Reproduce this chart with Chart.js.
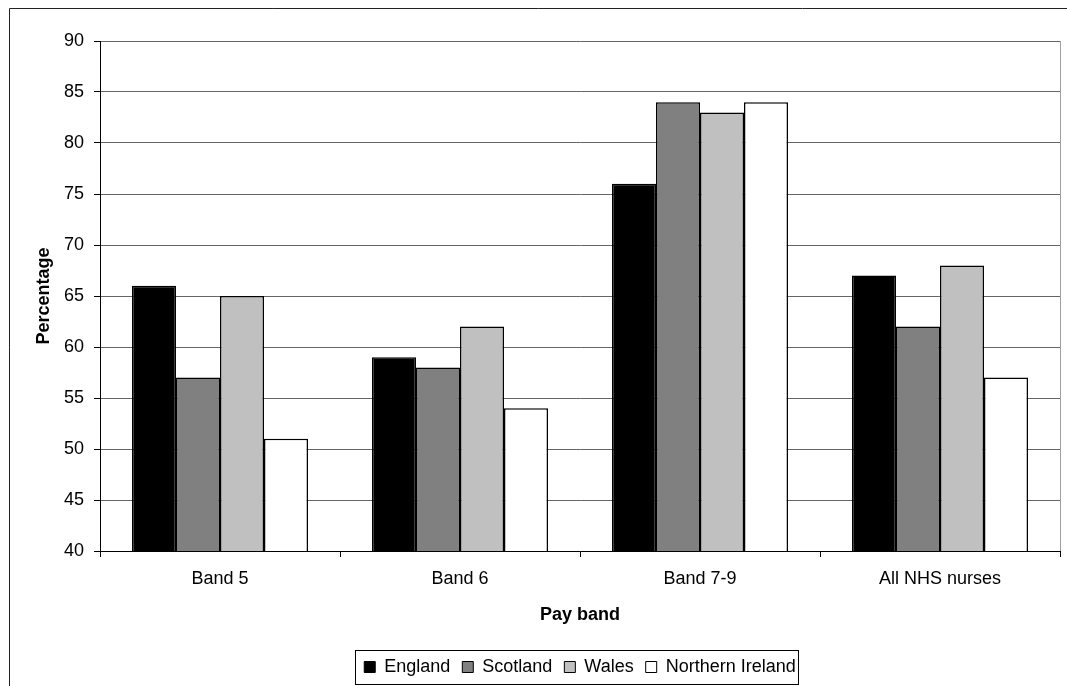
<!DOCTYPE html>
<html>
<head>
<meta charset="utf-8">
<script src="https://cdn.jsdelivr.net/npm/chart.js@4/dist/chart.umd.min.js"></script>
<style>
  html, body { margin: 0; padding: 0; background: #fff; }
  #c { display: block; }
</style>
</head>
<body>
<canvas id="c" width="1067" height="686"></canvas>
<script>
const categories = ['Band 5', 'Band 6', 'Band 7-9', 'All NHS nurses'];
const seriesNames = ['England', 'Scotland', 'Wales', 'Northern Ireland'];
const england = [66, 59, 76, 67];
const scotland = [57, 58, 84, 62];
const wales = [65, 62, 83, 68];
const northernIreland = [51, 54, 84, 57];
const yTicks = [40, 45, 50, 55, 60, 65, 70, 75, 80, 85, 90];

const fills = ['#000000', '#808080', '#c0c0c0', '#ffffff'];
const seriesValues = [england, scotland, wales, northernIreland];

Chart.defaults.font.family = "'Liberation Sans', Arial, sans-serif";
Chart.defaults.font.size = 18;
Chart.defaults.color = '#000';

const framePlugin = {
  id: 'frame',
  beforeDraw(chart) {
    const ctx = chart.ctx;
    ctx.save();
    ctx.fillStyle = '#fff';
    ctx.fillRect(0, 0, chart.width, chart.height);
    ctx.restore();
  },
  beforeDatasetsDraw(chart) {
    const {ctx, chartArea: a} = chart;
    ctx.save();
    ctx.strokeStyle = '#a0a0a0';
    ctx.lineWidth = 1;
    ctx.beginPath();
    ctx.moveTo(Math.round(a.right) + 0.5, a.top);
    ctx.lineTo(Math.round(a.right) + 0.5, a.bottom);
    ctx.stroke();
    ctx.restore();
  },
  afterDraw(chart) {
    const ctx = chart.ctx;
    ctx.save();
    // outer frame
    ctx.strokeStyle = '#222';
    ctx.lineWidth = 1;
    ctx.beginPath();
    ctx.moveTo(chart.width, 8.5);
    ctx.lineTo(9.5, 8.5);
    ctx.lineTo(9.5, chart.height);
    ctx.stroke();
    // legend border
    const lg = chart.legend;
    if (lg && lg.legendHitBoxes && lg.legendHitBoxes.length) {
      const hb = lg.legendHitBoxes;
      const first = hb[0], last = hb[hb.length - 1];
      const left = Math.round(first.left - 9) + 0.5;
      const right = Math.round(last.left + last.width + 2) + 0.5;
      const cy = first.top + first.height / 2;
      const top = Math.round(cy - 17) + 0.5;
      const bottom = Math.round(cy + 17) + 0.5;
      ctx.strokeStyle = '#000';
      ctx.strokeRect(left, top, right - left, bottom - top);
    }
    ctx.restore();
  }
};

new Chart(document.getElementById('c'), {
  type: 'bar',
  data: {
    labels: categories,
    datasets: seriesNames.map((name, i) => ({
      label: name,
      data: seriesValues[i],
      backgroundColor: fills[i],
      borderColor: '#000',
      borderWidth: 1.5,
      borderSkipped: false,
      categoryPercentage: 176 / 240,
      barPercentage: 1
    }))
  },
  options: {
    responsive: false,
    animation: false,
    devicePixelRatio: 1,
    layout: { padding: { left: 33, right: 7, top: 41, bottom: 0 } },
    plugins: {
      tooltip: { enabled: false },
      legend: {
        position: 'bottom',
        fullSize: false,
        labels: {
          boxWidth: 11,
          boxHeight: 11,
          padding: 12,
          color: '#000',
          font: { size: 18 },
          generateLabels(chart) {
            return chart.data.datasets.map((ds, i) => ({
              text: ds.label,
              fillStyle: ds.backgroundColor,
              strokeStyle: '#000',
              lineWidth: 1,
              hidden: false,
              datasetIndex: i
            }));
          }
        }
      }
    },
    scales: {
      x: {
        afterFit(s) { s.height = 95; },
        grid: {
          display: true,
          drawOnChartArea: false,
          drawTicks: true,
          tickLength: 6,
          color: '#000',
          tickColor: '#000',
          offset: true
        },
        border: { display: true, color: '#000', width: 1 },
        ticks: { padding: 11, color: '#000', font: { size: 18 }, maxRotation: 0 },
        title: {
          display: true,
          text: 'Pay band',
          color: '#000',
          font: { size: 18, weight: 'bold' },
          padding: { top: 0, bottom: 20 }
        }
      },
      y: {
        min: 40,
        max: 90,
        afterFit(s) { s.width = 67; },
        afterBuildTicks(s) { s.ticks = yTicks.map(v => ({ value: v })); },
        grid: {
          color: '#666',
          lineWidth: 1,
          tickLength: 6,
          tickColor: '#000'
        },
        border: { display: true, color: '#000', width: 1 },
        ticks: { padding: 10, color: '#000', font: { size: 18 }, stepSize: 5 },
        title: {
          display: true,
          text: 'Percentage',
          color: '#000',
          font: { size: 18, weight: 'bold' },
          padding: { top: 0, bottom: 0 }
        }
      }
    }
  },
  plugins: [framePlugin]
});
</script>
</body>
</html>
